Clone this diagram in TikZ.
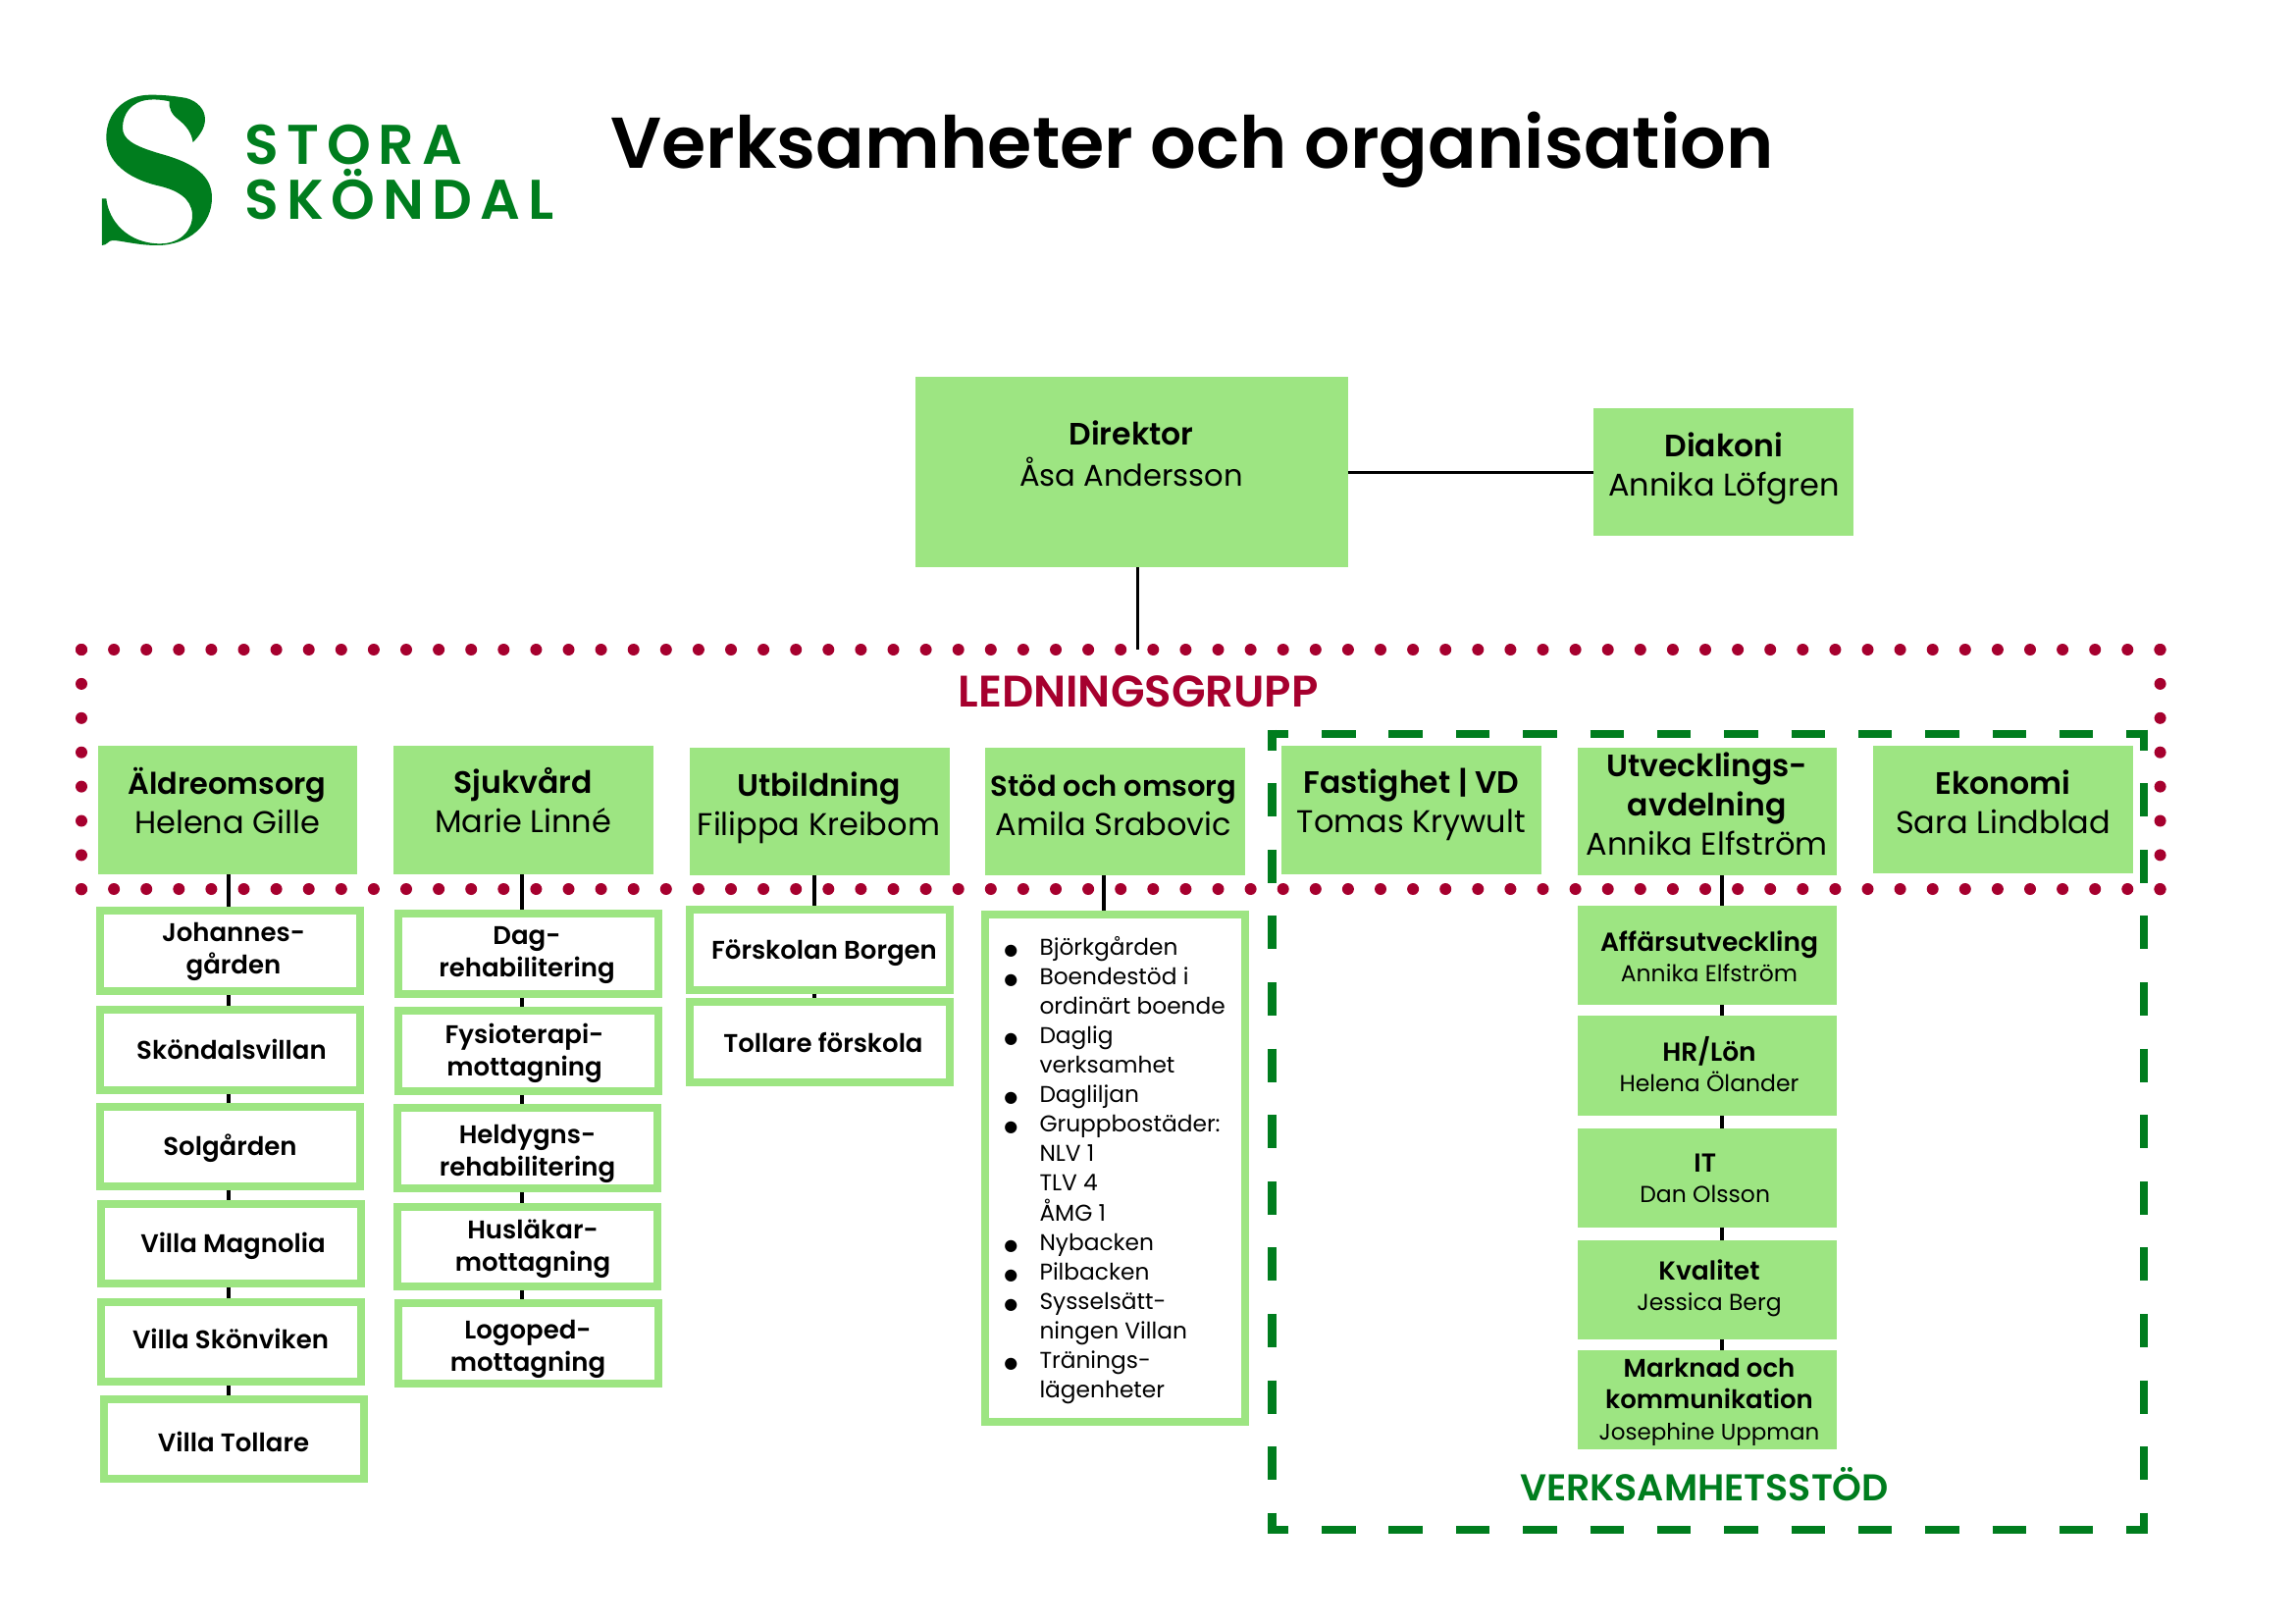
\documentclass[tikz,border=0pt]{standalone}
\usepackage{fontspec}
\usepackage{graphicx}
\setmainfont{Poppins}[BoldFont={Poppins SemiBold}]
\newfontfamily\logofont{Poppins}[BoldFont={Poppins SemiBold},LetterSpace=14.3]
\newfontfamily\bulletfont{DejaVu Sans}
\definecolor{lgreen}{RGB}{157,229,130}
\definecolor{dgreen}{RGB}{0,125,30}
\definecolor{dred}{RGB}{166,0,46}
\newsavebox\txtbox
\newcommand\lines[3]{\fontsize{#1}{#2}\selectfont\begin{tabular}[b]{@{}c@{}}#3\end{tabular}}
\newcommand\hb[1]{{\fontsize{31.5}{40}\selectfont\textbf{#1}}}
\newcommand\hd[2]{\lines{32}{40}{\hb{#1}\\#2}}
\newcommand\sub[1]{\bfseries\lines{26}{33}{#1}}
\newcommand\rs[2]{\fontsize{23.5}{31}\selectfont\begin{tabular}[b]{@{}c@{}}{\fontsize{26.5}{31}\selectfont\textbf{#1}}\\#2\end{tabular}}
\newcommand\li[1]{\makebox[34.5pt][l]{\hspace*{-1.7pt}{\bulletfont\fontsize{16}{16}\selectfont ●}}#1}
\newcommand\lc[1]{\hspace*{34.5pt}#1}
\newcommand\bx[9]{%
  \pgfmathsetmacro\boxcx{(#2+#4)/2}%
  \pgfmathsetmacro\boxcy{(#3+#5)/2}%
  \pgfmathsetmacro\boxw{#4-#2-\bd}%
  \pgfmathsetmacro\boxh{#5-#3-\bd}%
  \pgfmathsetmacro\boxdx{2*(#7-\boxcx)}%
  \pgfmathsetmacro\boxdy{\boxcy-#8-2.5}%
  \node[#6,minimum width=\boxw pt,minimum height=\boxh pt] (#1) at (\boxcx,\boxcy)
    {\sbox\txtbox{#9}\raisebox{\dimexpr\boxdy pt+(\dp\txtbox-\ht\txtbox)/2\relax}[0pt][0pt]{\makebox[0pt]{\hspace*{\boxdx pt}\usebox\txtbox}}};%
}
\newcommand\gb{\def\bd{0}\bx}
\newcommand\wb{\def\bd{8}\bx}
\tikzset{
  gbox/.style={fill=lgreen,inner sep=0pt,outer sep=0pt},
  wbox/.style={draw=lgreen,fill=white,line width=8pt,inner sep=0pt,outer sep=4pt},
  conn/.style={draw=black,line width=4pt},
  thinconn/.style={draw=black,line width=3pt},
  dotline/.style={draw=dred,line width=12pt,line cap=round},
  dashline/.style={draw=dgreen,line width=8.5pt},
  grouplabel/.style={inner sep=0pt,anchor=base,font=\fontsize{38}{44}\selectfont\bfseries},
  logotext/.style={inner sep=0pt,anchor=base west,text=dgreen,font=\logofont\bfseries}
}
\begin{document}
\begin{tikzpicture}[x=1pt,y=-1pt]
\useasboundingbox (0,0) rectangle (2339,1654);

% logo
\begin{scope}[shift={(90,85)},x=0.3333pt,y=-0.3333pt]
\fill[dgreen] (190,35) .. controls (230,35) and (260,38) .. (300,45)
  .. controls (335,55) and (357,80) .. (357,110)
  .. controls (357,140) and (335,165) .. (320,180)
  .. controls (315,150) and (300,130) .. (275,110)
  .. controls (255,95) and (245,75) .. (248,55)
  .. controls (225,50) and (205,48) .. (185,50)
  .. controls (130,55) and (105,95) .. (105,135)
  .. controls (105,170) and (135,190) .. (220,215)
  .. controls (330,245) and (378,285) .. (378,350)
  .. controls (378,430) and (310,495) .. (210,495)
  .. controls (150,495) and (100,480) .. (75,480)
  .. controls (60,480) and (58,495) .. (42,495)
  -- (42,352) -- (55,352)
  .. controls (62,420) and (120,490) .. (220,490)
  .. controls (280,490) and (320,450) .. (318,400)
  .. controls (315,350) and (270,325) .. (210,312)
  .. controls (120,290) and (55,240) .. (55,165)
  .. controls (55,90) and (110,35) .. (190,35) -- cycle;
\end{scope}
\node[logotext,font=\logofont\bfseries\fontsize{57}{60}\selectfont] (stora) at (249,167) {STORA};
\node[logotext,font=\logofont\bfseries\fontsize{57}{60}\selectfont] (skondal) at (249,223.5) {SKÖNDAL};

% title
\node[inner sep=0pt,anchor=base,font=\fontsize{73.3}{80}\selectfont\bfseries] (title) at (1215,171) {Verksamheter och organisation};

% dotted frame
\draw[dotline,dash pattern=on 0pt off 33.1pt] (83,662) -- (2203,662);
\draw[dotline,dash pattern=on 0pt off 33.1pt] (83,906) -- (2203,906);
\draw[dotline,dash pattern=on 0pt off 34.9pt] (83,662) -- (83,907);
\draw[dotline,dash pattern=on 0pt off 34.9pt] (2201.6,662) -- (2201.6,907);

% dashed frame
\draw[dashline,dash pattern=on 34.5pt off 33.84pt,dash phase=13.5pt] (1292.3,748) -- (2189.3,748);
\draw[dashline,dash pattern=on 34.5pt off 33.84pt,dash phase=13.5pt] (1292.3,1559) -- (2189.3,1559);
\draw[dashline,dash pattern=on 34pt off 33.58pt,dash phase=13pt] (1296.6,743.7) -- (1296.6,1563.3);
\draw[dashline,dash pattern=on 34pt off 33.58pt,dash phase=13pt] (2185,743.7) -- (2185,1563.3);

% connector guides
\coordinate (c0) at (1159,0);
\coordinate (c1) at (233,0);
\coordinate (c2) at (531.5,0);
\coordinate (c3) at (830,0);
\coordinate (c4) at (1125,0);
\coordinate (c5) at (1755,0);
\coordinate (ledtop) at (1159,662);

% top boxes
\gb{dir}{932.5}{384}{1373.5}{578}{gbox}{1153}{464}{\lines{30.6}{40}{\hb{Direktor}\\Åsa Andersson}}
\gb{dia}{1624}{416}{1888.5}{546}{gbox}{1757}{475}{\hd{Diakoni}{Annika Löfgren}}

% management row
\gb{m1}{100}{760}{364}{891}{gbox}{231.6}{819}{\lines{32}{40}{{\fontsize{30.4}{40}\selectfont\textbf{Äldreomsorg}}\\Helena Gille}}
\gb{m2}{401}{760}{666}{891}{gbox}{533}{818}{\hd{Sjukvård}{Marie Linné}}
\gb{m3}{703}{762}{968}{892}{gbox}{834.5}{820.5}{\hd{Utbildning}{Filippa Kreibom}}
\gb{m4}{1004}{762}{1269}{892}{gbox}{1135}{821}{\fontsize{32}{40}\selectfont\begin{tabular}[b]{@{}c@{}}{\fontsize{29}{40}\selectfont\textbf{Stöd och omsorg}}\\Amila Srabovic\end{tabular}}
\gb{m5}{1306}{760}{1571}{890.5}{gbox}{1438.4}{817.6}{\hd{Fastighet | VD}{Tomas Krywult}}
\gb{m6}{1608}{762}{1872}{892}{gbox}{1739.7}{821}{\lines{32}{40}{\hb{Utvecklings-}\\\hb{avdelning}\\Annika Elfström}}
\gb{m7}{1909}{760}{2174}{890}{gbox}{2041.6}{819}{\hd{Ekonomi}{Sara Lindblad}}

% column 1
\wb{a1}{98}{924}{371}{1014}{wbox}{238}{966.6}{\sub{Johannes-\\gården}}
\wb{a2}{98}{1025}{371}{1115}{wbox}{236}{1070}{\sub{Sköndalsvillan}}
\wb{a3}{98}{1124}{371}{1213}{wbox}{234.5}{1168.7}{\sub{Solgården}}
\wb{a4}{99}{1223}{372}{1312}{wbox}{237.5}{1267}{\sub{Villa Magnolia}}
\wb{a5}{99}{1323}{372}{1412}{wbox}{235}{1365.6}{\sub{Villa Skönviken}}
\wb{a6}{102}{1422}{375}{1511}{wbox}{238}{1470.6}{\sub{Villa Tollare}}

% column 2
\wb{b1}{402}{927}{674.5}{1017}{wbox}{537}{969.5}{\sub{Dag-\\rehabilitering}}
\wb{b2}{402}{1026}{674.5}{1116}{wbox}{534.5}{1071}{\sub{Fysioterapi-\\mottagning}}
\wb{b3}{401}{1125}{674}{1215}{wbox}{537.5}{1172.7}{\sub{Heldygns-\\rehabilitering}}
\wb{b4}{401}{1226}{674}{1315}{wbox}{543}{1269.7}{\sub{Husläkar-\\mottagning}}
\wb{b5}{402}{1324}{675}{1414}{wbox}{538}{1372}{\sub{Logoped-\\mottagning}}

% column 3
\wb{u1}{699}{923}{972}{1012.5}{wbox}{840}{968}{\sub{Förskolan Borgen}}
\wb{u2}{699}{1017}{972}{1107}{wbox}{839}{1063}{\sub{Tollare förskola}}

% column 4
\wb{s1}{1000}{928}{1273}{1453}{wbox}{1125}{1190.5}{\fontsize{23.3}{30}\selectfont\makebox[200pt][l]{\begin{tabular}[b]{@{}l@{}}\li{Björkgården}\\\li{Boendestöd i}\\\lc{ordinärt boende}\\\li{Daglig}\\\lc{verksamhet}\\\li{Dagliljan}\\\li{Gruppbostäder:}\\\lc{NLV 1}\\\lc{TLV 4}\\\lc{ÅMG 1}\\\li{Nybacken}\\\li{Pilbacken}\\\li{Sysselsätt-}\\\lc{ningen Villan}\\\li{Tränings-}\\\lc{lägenheter}\end{tabular}}}

% support column
\gb{v1}{1608}{923}{1872}{1024}{gbox}{1742}{976.5}{\rs{Affärsutveckling}{Annika Elfström}}
\gb{v2}{1608}{1035}{1872}{1137}{gbox}{1742}{1087}{\rs{HR/Lön}{Helena Ölander}}
\gb{v3}{1608}{1149.5}{1872}{1250.5}{gbox}{1737.7}{1201}{\rs{IT}{Dan Olsson}}
\gb{v4}{1608}{1264}{1872}{1365}{gbox}{1742}{1311}{\rs{Kvalitet}{Jessica Berg}}
\gb{v5}{1608}{1376}{1872}{1477}{gbox}{1742}{1427}{\fontsize{23}{32}\selectfont\begin{tabular}[b]{@{}c@{}}{\fontsize{26}{32}\selectfont\textbf{Marknad och}}\\{\fontsize{26}{32}\selectfont\textbf{kommunikation}}\\Josephine Uppman\end{tabular}}

% group labels
\node[grouplabel,text=dred,font=\fontsize{45}{50}\selectfont\bfseries] (ledlabel) at (1160,720) {LEDNINGSGRUPP};
\node[grouplabel,text=dgreen] (verklabel) at (1737,1529) {VERKSAMHETSSTÖD};

% connectors
\draw[thinconn] (dir.east) -- (dia.west);
\draw[thinconn] (dir.south -| c0) -- (ledtop);
\draw[conn] (m1.south -| c1) -- (a1.north -| c1);
\draw[conn] (a1.south -| c1) -- (a2.north -| c1);
\draw[conn] (a2.south -| c1) -- (a3.north -| c1);
\draw[conn] (a3.south -| c1) -- (a4.north -| c1);
\draw[conn] (a4.south -| c1) -- (a5.north -| c1);
\draw[conn] (a5.south -| c1) -- (a6.north -| c1);
\draw[conn] (m2.south -| c2) -- (b1.north -| c2);
\draw[conn] (b1.south -| c2) -- (b2.north -| c2);
\draw[conn] (b2.south -| c2) -- (b3.north -| c2);
\draw[conn] (b3.south -| c2) -- (b4.north -| c2);
\draw[conn] (b4.south -| c2) -- (b5.north -| c2);
\draw[conn] (m3.south -| c3) -- (u1.north -| c3);
\draw[conn] (u1.south -| c3) -- (u2.north -| c3);
\draw[conn] (m4.south -| c4) -- (s1.north -| c4);
\draw[conn] (m6.south -| c5) -- (v1.north -| c5);
\draw[conn] (v1.south -| c5) -- (v2.north -| c5);
\draw[conn] (v2.south -| c5) -- (v3.north -| c5);
\draw[conn] (v3.south -| c5) -- (v4.north -| c5);
\draw[conn] (v4.south -| c5) -- (v5.north -| c5);
\end{tikzpicture}
\end{document}
